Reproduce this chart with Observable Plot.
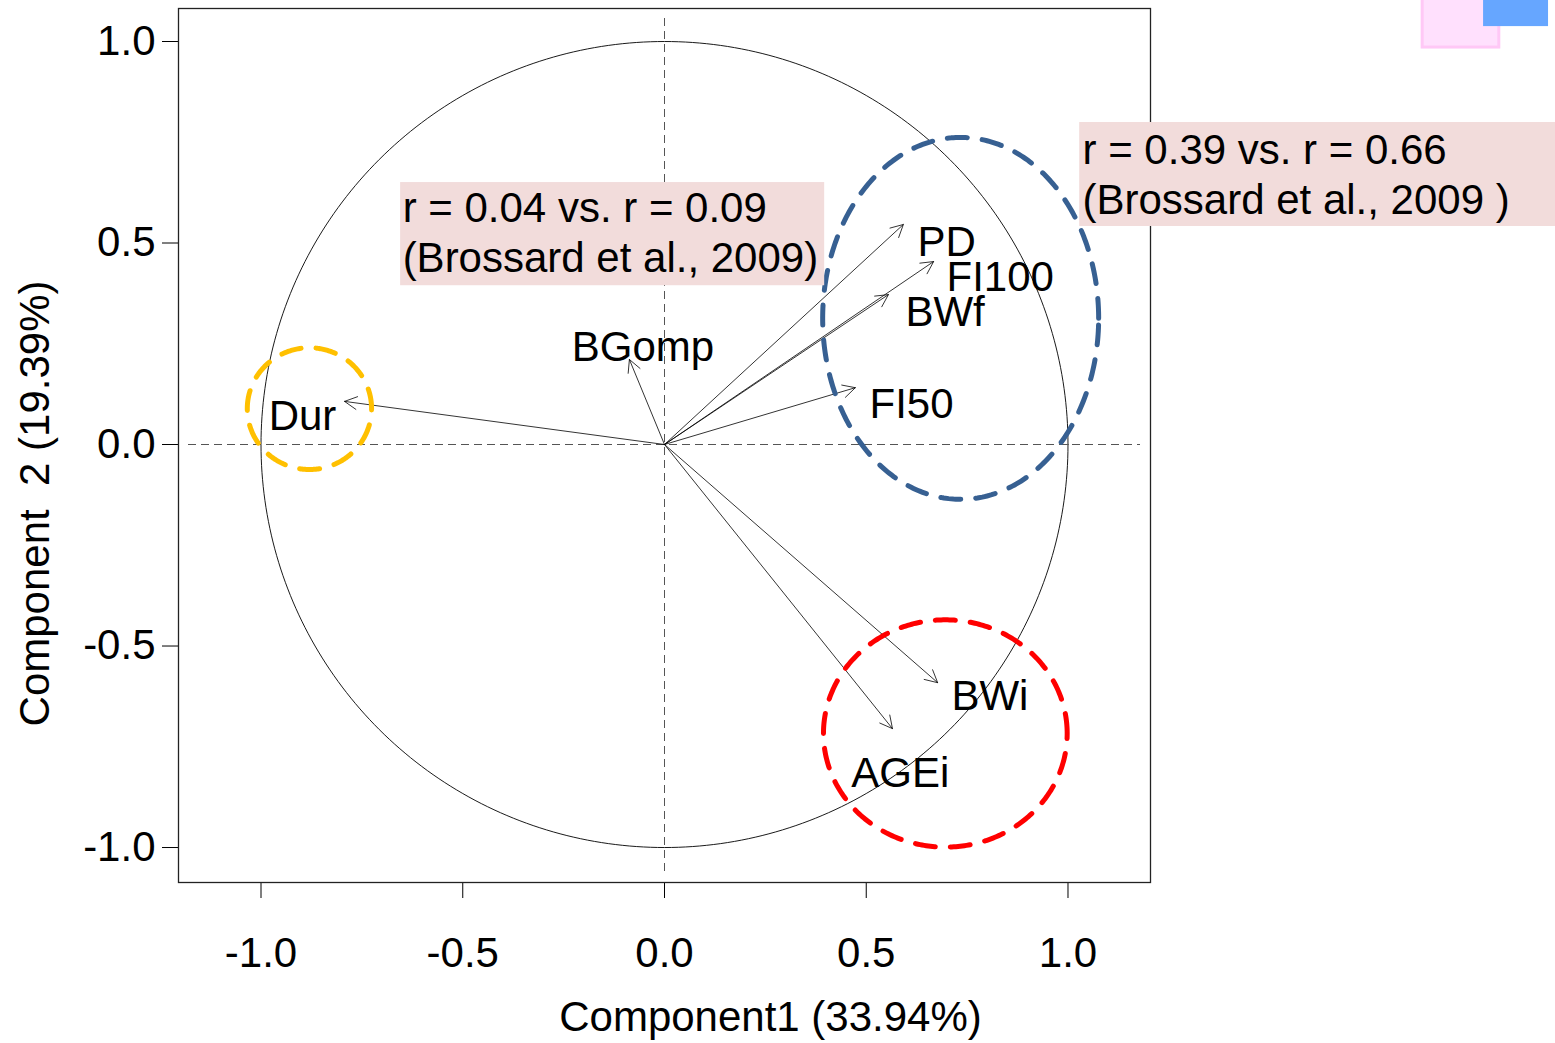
<!DOCTYPE html>
<html>
<head>
<meta charset="utf-8">
<script src="https://cdn.jsdelivr.net/npm/d3@7"></script>
<script src="https://cdn.jsdelivr.net/npm/@observablehq/plot@0.6"></script>
<style>
  html, body { margin: 0; padding: 0; background: white; }
  #chart { width: 1555px; height: 1043px; overflow: hidden; }
</style>
</head>
<body>
<div id="chart"></div>
<script>
// ---- data ----
const variables = ["PD", "FI100", "BWf", "FI50", "BGomp", "Dur", "BWi", "AGEi"];
const comp1 = [0.592, 0.667, 0.555, 0.473, -0.087, -0.793, 0.677, 0.565];
const comp2 = [0.546, 0.454, 0.372, 0.141, 0.211, 0.107, -0.591, -0.705];
const labelX = [0.627, 0.699, 0.597, 0.508, -0.230, -0.981, 0.711, 0.463];
const labelY = [0.469, 0.380, 0.295, 0.067, 0.208, 0.035, -0.660, -0.851];

const axisTicks = [-1, -0.5, 0, 0.5, 1];
const xTitle = "Component1 (33.94%)";
const yTitle = "Component\u00a0 2 (19.39%)";

const groupNames = ["duration", "growth", "initial"];
const groupColors = ["#FFC000", "#376092", "#FF0000"];
const groupCX = [-0.880, 0.734, 0.696];
const groupCY = [0.089, 0.313, -0.717];
const groupRX = [0.154, 0.342, 0.302];
const groupRY = [0.151, 0.449, 0.282];

const noteLines = ["r = 0.04 vs. r = 0.09\n(Brossard et al., 2009)", "r = 0.39 vs. r = 0.66\n(Brossard et al., 2009 )"];
const noteX1 = [-0.654, 1.029];
const noteX2 = [0.397, 2.210];
const noteY1 = [0.394, 0.541];
const noteY2 = [0.650, 0.799];
const noteTextX = [-0.649, 1.036];
const noteTextY = [0.429, 0.573];

const swatchColors = ["#ffe0fd", "#66a6ff"];
const swatchStroke = ["#ffc8f6", "none"];
const swatchX1 = [1.879, 2.030];
const swatchX2 = [2.069, 2.191];
const swatchY1 = [0.985, 1.037];
const swatchY2 = [1.15, 1.15];

// ---- derived tables ----
const loadings = variables.map((v, i) => ({name: v, x: comp1[i], y: comp2[i], lx: labelX[i], ly: labelY[i]}));
const notes = noteLines.map((t, i) => ({text: t, x1: noteX1[i], x2: noteX2[i], y1: noteY1[i], y2: noteY2[i], tx: noteTextX[i], ty: noteTextY[i]}));
const swatches = swatchColors.map((c, i) => ({fill: c, stroke: swatchStroke[i], x1: swatchX1[i], x2: swatchX2[i], y1: swatchY1[i], y2: swatchY2[i]}));

// geometric outlines (unit correlation circle and group ellipses)
const angles = d3.range(0, 361, 1).map(a => a * Math.PI / 180);
const unitCircle = angles.map(t => ({x: Math.cos(t), y: Math.sin(t)}));
const ellipses = groupNames.flatMap((g, i) =>
  angles.map(t => ({group: g, x: groupCX[i] + groupRX[i] * Math.cos(t), y: groupCY[i] + groupRY[i] * Math.sin(t)})));

const fmt = d => d.toFixed(1);

const chart = Plot.plot({
  width: 1555,
  height: 1043,
  marginLeft: 178,
  marginRight: 405,
  marginTop: 8,
  marginBottom: 161,
  style: {
    fontFamily: "'Liberation Sans', Arial, sans-serif",
    fontSize: "42px",
    background: "white",
    color: "black",
    overflow: "visible"
  },
  x: {domain: [-1.2045, 1.2045], ticks: axisTicks, tickFormat: fmt, tickSize: 16, tickPadding: 39, label: null},
  y: {domain: [-1.0868, 1.0819], ticks: axisTicks, tickFormat: fmt, tickSize: 16, tickPadding: 7, label: null},
  color: {domain: groupNames, range: groupColors},
  marks: [
    Plot.ruleX([0], {stroke: "#555", strokeWidth: 1, strokeDasharray: "8,5", insetTop: 10, insetBottom: 10}),
    Plot.ruleY([0], {stroke: "#555", strokeWidth: 1, strokeDasharray: "8,5", insetLeft: 10, insetRight: 10}),
    Plot.frame({stroke: "#222", strokeWidth: 1.3}),
    Plot.line(unitCircle, {x: "x", y: "y", stroke: "black", strokeWidth: 0.9}),
    Plot.arrow(loadings, {x1: 0, y1: 0, x2: "x", y2: "y", stroke: "black", strokeWidth: 0.8, headLength: 26, headAngle: 55}),
    Plot.line(ellipses, {x: "x", y: "y", z: "group", stroke: "group", strokeWidth: 5, strokeDasharray: "20,15"}),
    Plot.text(loadings, {x: "lx", y: "ly", text: "name", textAnchor: "start", lineAnchor: "bottom", fill: "black"}),
    Plot.rect(notes, {x1: "x1", x2: "x2", y1: "y1", y2: "y2", fill: "#F2DCDB"}),
    Plot.text(notes, {x: "tx", y: "ty", text: "text", textAnchor: "start", lineAnchor: "bottom", lineHeight: 1.17, fill: "black"}),
    Plot.rect(swatches, {x1: "x1", x2: "x2", y1: "y1", y2: "y2", fill: "fill", stroke: "stroke", strokeWidth: 3}),
    Plot.text([xTitle], {frameAnchor: "bottom", text: d => d, dx: 106, dy: 148, lineAnchor: "bottom", textAnchor: "middle", fill: "black"}),
    Plot.text([yTitle], {frameAnchor: "left", text: d => d, dx: -130, dy: 58, rotate: -90, lineAnchor: "bottom", textAnchor: "middle", fill: "black"})
  ]
});

document.getElementById("chart").appendChild(chart);
</script>
</body>
</html>
